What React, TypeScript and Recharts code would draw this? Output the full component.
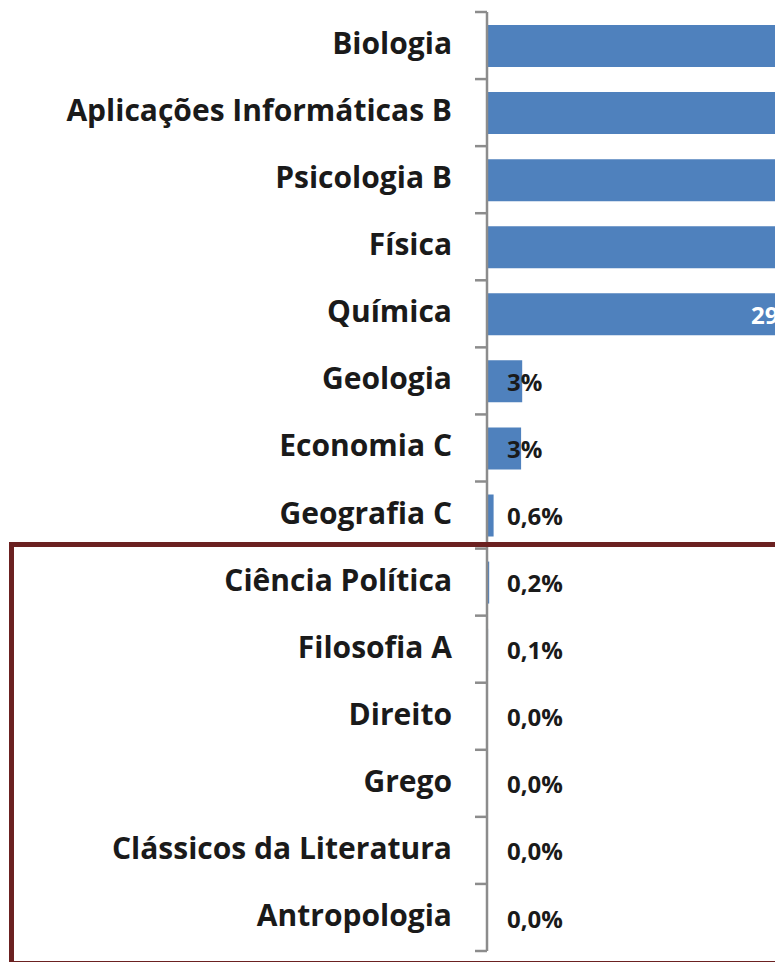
import React from "react";
import { BarChart, Bar, XAxis, YAxis, LabelList } from "recharts";

const categories = [
  "Biologia",
  "Aplicações Informáticas B",
  "Psicologia B",
  "Física",
  "Química",
  "Geologia",
  "Economia C",
  "Geografia C",
  "Ciência Política",
  "Filosofia A",
  "Direito",
  "Grego",
  "Clássicos da Literatura",
  "Antropologia",
];
const values = [45, 40, 36, 33, 29, 3.2, 3.1, 0.6, 0.2, 0.1, 0, 0, 0, 0];

const data = categories.map((name, i) => ({ name, value: values[i] }));

const CHART_W = 993;
const CHART_H = 962;
const MARGIN_TOP = 12;
const MARGIN_BOTTOM = 11;
const AXIS_W = 487;
const BAND = (CHART_H - MARGIN_TOP - MARGIN_BOTTOM) / categories.length;

const fmt = (v: number) =>
  v >= 1 ? `${Math.round(v)}%` : `${v.toFixed(1).replace(".", ",")}%`;

const CategoryTick = (props: any) => {
  const { y, payload, index } = props;
  const last = index === categories.length - 1;
  return (
    <g>
      <line x1={475} x2={AXIS_W} y1={y - BAND / 2} y2={y - BAND / 2} stroke="#8c8c8c" strokeWidth={2.5} />
      {last && (
        <line x1={475} x2={AXIS_W} y1={y + BAND / 2} y2={y + BAND / 2} stroke="#8c8c8c" strokeWidth={2.5} />
      )}
      <text
        x={452}
        y={y}
        dy={8.5}
        textAnchor="end"
        fill="#1a1a1a"
        fontFamily="'Open Sans', sans-serif"
        fontWeight={700}
        fontSize={30}
      >
        {payload.value}
      </text>
    </g>
  );
};

const ValueLabel = (props: any) => {
  const { x, y, width, height, value } = props;
  const big = value > 10;
  const tx = big ? x + width - 6 : x + 20;
  return (
    <text
      x={tx}
      y={y + height / 2}
      dy="0.4em"
      textAnchor={big ? "end" : "start"}
      fill={big ? "#ffffff" : "#1a1a1a"}
      fontFamily="'Open Sans', sans-serif"
      fontWeight={700}
      fontSize={24}
    >
      {fmt(value)}
    </text>
  );
};

export default function App() {
  return (
    <div
      style={{
        position: "fixed",
        left: 0,
        top: 0,
        width: 775,
        height: 962,
        overflow: "hidden",
        background: "#ffffff",
      }}
    >
      <BarChart
        width={CHART_W}
        height={CHART_H}
        data={data}
        layout="vertical"
        margin={{ top: MARGIN_TOP, right: 0, bottom: MARGIN_BOTTOM, left: 0 }}
        barSize={42}
      >
        <XAxis type="number" domain={[0, 46]} hide height={0} />
        <YAxis
          type="category"
          dataKey="name"
          width={AXIS_W}
          interval={0}
          tickLine={false}
          axisLine={{ stroke: "#8c8c8c", strokeWidth: 2.5 }}
          tick={<CategoryTick />}
        />
        <Bar dataKey="value" fill="#4F81BD" minPointSize={0.01} isAnimationActive={false}>
          <LabelList dataKey="value" content={<ValueLabel />} />
        </Bar>
      </BarChart>
      <div
        style={{
          position: "absolute",
          left: 9,
          top: 542,
          width: 900,
          height: 424,
          border: "5px solid #6b2121",
          boxSizing: "border-box",
          pointerEvents: "none",
        }}
      />
    </div>
  );
}
